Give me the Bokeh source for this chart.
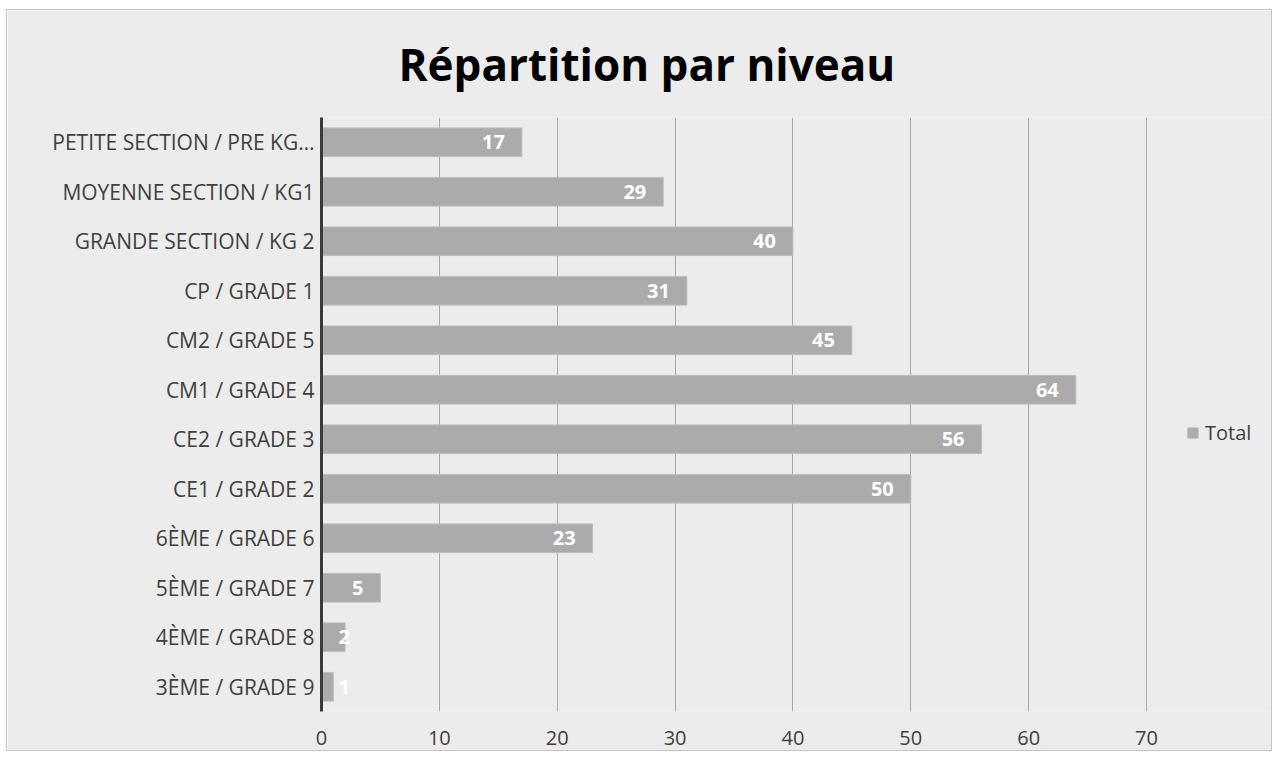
from bokeh.plotting import figure
from bokeh.models import (FactorRange, Range1d, FixedTicker, ColumnDataSource,
                          Legend, LegendItem, Title)
from bokeh.core.properties import value
from bokeh.embed import file_html
from bokeh.resources import INLINE

categories = [
    "PETITE SECTION / PRE KG…",
    "MOYENNE SECTION / KG1",
    "GRANDE SECTION / KG 2",
    "CP / GRADE 1",
    "CM2 / GRADE 5",
    "CM1 / GRADE 4",
    "CE2 / GRADE 3",
    "CE1 / GRADE 2",
    "6ÈME / GRADE 6",
    "5ÈME / GRADE 7",
    "4ÈME / GRADE 8",
    "3ÈME / GRADE 9",
]
values = [17, 29, 40, 31, 45, 64, 56, 50, 23, 5, 2, 1]
x_ticks = [0, 10, 20, 30, 40, 50, 60, 70]
title_text = "Répartition par niveau"
series_name = "Total"

FONT = "Open Sans"
BG = "#ececec"
BAR = "#ababab"
TXT = "#404040"

FIG_W = 1264
LEFT = 314
AXIS_MAX = 70
AXIS_PX = 825  # pixel length of 0..70 in the reference
x_end = AXIS_MAX * (FIG_W - LEFT) / AXIS_PX  # frame extends under the legend

p = figure(
    width=FIG_W, height=740,
    y_range=FactorRange(factors=list(reversed(categories)), range_padding=0),
    x_range=Range1d(0, x_end),
    output_backend="svg", toolbar_location=None,
    min_border_left=LEFT, min_border_right=0,
    min_border_top=107, min_border_bottom=39,
)
p.margin = (10, 0, 0, 7)
p.styles = {"outline": "1px solid #c4c4c4"}
p.background_fill_color = BG
p.border_fill_color = BG
p.outline_line_color = None

t = Title(text=title_text, align="left", offset=77, text_font=FONT,
          text_font_size="44px", text_font_style="bold", text_color="#000000",
          vertical_align="top", standoff=44)
p.add_layout(t, "above")

src = ColumnDataSource(dict(cat=categories, val=values))
bars = p.hbar(y="cat", right="val", left=0, height=0.58, source=src,
              fill_color=BAR, line_color="#bdbdbd", line_width=1)

inside = [v >= 4 for v in values]
src_in = ColumnDataSource(dict(
    cat=[c for c, i in zip(categories, inside) if i],
    val=[v for v, i in zip(values, inside) if i],
    txt=[str(v) for v, i in zip(values, inside) if i]))
src_out = ColumnDataSource(dict(
    cat=[c for c, i in zip(categories, inside) if not i],
    val=[v for v, i in zip(values, inside) if not i],
    txt=[str(v) for v, i in zip(values, inside) if not i]))
p.text(x="val", y="cat", text="txt", source=src_in, text_align="right",
       text_baseline="middle", x_offset=-17, text_color="white",
       text_font=value(FONT), text_font_style="bold", text_font_size="20px")
p.text(x=0, y="cat", text="txt", source=src_out, text_align="left",
       text_baseline="middle", x_offset=17, text_color="white",
       text_font=value(FONT), text_font_style="bold", text_font_size="20px")

p.xaxis.ticker = FixedTicker(ticks=x_ticks)
p.xaxis.axis_line_color = None
p.xaxis.major_tick_line_color = None
p.xaxis.minor_tick_line_color = None
p.xaxis.major_label_text_font = FONT
p.xaxis.major_label_text_font_size = "20px"
p.xaxis.major_label_text_color = TXT
p.xaxis.major_label_standoff = 13

p.yaxis.axis_line_color = "#3a3a3a"
p.yaxis.axis_line_width = 3
p.yaxis.major_tick_line_color = None
p.yaxis.minor_tick_line_color = None
p.yaxis.major_label_text_font = FONT
p.yaxis.major_label_text_font_size = "21px"
p.yaxis.major_label_text_color = TXT
p.yaxis.major_label_standoff = 1

p.xgrid.ticker = FixedTicker(ticks=x_ticks)
p.xgrid.grid_line_color = "#a8a8a8"
p.ygrid.grid_line_color = None

legend = Legend(items=[LegendItem(label=series_name, renderers=[bars])],
                location=(865, 265), orientation="vertical",
                glyph_width=13, glyph_height=13, label_height=20,
                label_text_font=FONT, label_text_font_size="20px",
                label_text_color=TXT, label_standoff=6,
                padding=0, margin=0, spacing=0,
                border_line_color=None, background_fill_alpha=0)
p.add_layout(legend, "center")

open("out.html", "w").write(file_html(p, INLINE))
